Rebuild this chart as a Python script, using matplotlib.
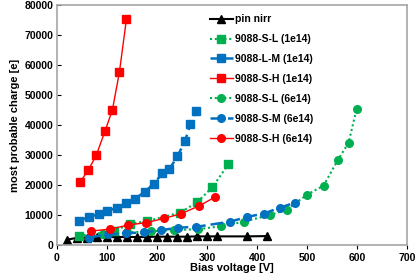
import matplotlib
matplotlib.use("Agg")
import matplotlib.pyplot as plt

# pin nirr
pin_v = [20, 40, 60, 80, 100, 120, 140, 160, 180, 200, 220, 240, 260, 280, 300, 320, 380, 420]
pin_q = [1800, 2400, 2500, 2600, 2600, 2700, 2700, 2700, 2700, 2800, 2800, 2800, 2800, 2900, 2900, 2900, 2900, 3000]

# 1e14
sl1_v = [44, 115, 147, 181, 246, 280, 311, 343]
sl1_q = [3000, 4700, 7100, 8000, 10800, 14200, 19300, 27000]

lm1_v = [44, 65, 84, 101, 121, 139, 157, 176, 194, 211, 225, 241, 256, 267, 279]
lm1_q = [8100, 9400, 10300, 11400, 12500, 14100, 15500, 17800, 20500, 23900, 25300, 29600, 34600, 40300, 44800]

sh1_v = [46, 63, 79, 96, 111, 125, 139]
sh1_q = [20900, 25000, 30000, 37900, 45000, 57600, 75200]

# 6e14
sl6_v = [44, 93, 140, 189, 234, 283, 329, 374, 425, 459, 499, 533, 561, 583, 599]
sl6_q = [3000, 3600, 4200, 4600, 5000, 5300, 6300, 7800, 10000, 11700, 16700, 19800, 28200, 34100, 45300]

sm6_v = [64, 103, 139, 175, 209, 243, 279, 346, 381, 413, 445, 475]
sm6_q = [2500, 3600, 3900, 4300, 5000, 5800, 6100, 7800, 9400, 10500, 12400, 14100]

sh6_v = [69, 106, 143, 179, 215, 249, 285, 317]
sh6_q = [4700, 5300, 6700, 7500, 8900, 10500, 13100, 16100]

RED = '#FF0000'
BLUE = '#0070C0'
GREEN = '#00B050'

plt.rcParams['font.family'] = ['Liberation Sans', 'DejaVu Sans']
plt.rcParams['font.weight'] = 'bold'

fig = plt.figure(figsize=(4.15, 2.76), dpi=100)
ax = fig.add_axes([0.137, 0.112, 0.844, 0.870])

ax.plot(pin_v, pin_q, color='black', lw=1.5, marker='^', ms=5.5, label='pin nirr')
ax.plot(sl1_v, sl1_q, color=GREEN, lw=1.5, ls=(0, (1, 1.3)), marker='s', ms=5.5, label='9088-S-L (1e14)')
ax.plot(lm1_v, lm1_q, color=BLUE, lw=1.8, ls=(0, (4, 2)), marker='s', ms=5.5, label='9088-L-M (1e14)')
ax.plot(sh1_v, sh1_q, color=RED, lw=1.0, marker='s', ms=5.5, label='9088-S-H (1e14)')
ax.plot(sl6_v, sl6_q, color=GREEN, lw=1.5, ls=(0, (1, 1.3)), marker='o', ms=5.5, label='9088-S-L (6e14)')
ax.plot(sm6_v, sm6_q, color=BLUE, lw=1.8, ls=(0, (5, 2)), marker='o', ms=5.5, label='9088-S-M (6e14)')
ax.plot(sh6_v, sh6_q, color=RED, lw=1.0, marker='o', ms=5.5, label='9088-S-H (6e14)')

ax.set_xlim(0, 700)
ax.set_ylim(0, 80000)
ax.set_xticks(range(0, 701, 100))
ax.set_yticks(range(0, 80001, 10000))
ax.tick_params(axis='both', labelsize=7.5, colors='black', length=3, width=0.8, pad=2.5)
ax.tick_params(axis='x', direction='out')
ax.tick_params(axis='y', direction='in')
for lab in ax.get_xticklabels() + ax.get_yticklabels():
    lab.set_fontweight('bold')
for s in ax.spines.values():
    s.set_color('#A6A6A6')
    s.set_linewidth(1.2)

ax.set_xlabel('Bias voltage [V]', fontsize=8, fontweight='bold', labelpad=0)
ax.set_ylabel('most probable charge [e]', fontsize=8, fontweight='bold', labelpad=3)

leg = ax.legend(loc='upper left', bbox_to_anchor=(0.41, 1.0), frameon=False,
                fontsize=7.5, handlelength=2.2, handletextpad=0.2, labelspacing=0.95)
for t in leg.get_texts():
    t.set_fontweight('bold')

fig.savefig('out.png', dpi=100)
